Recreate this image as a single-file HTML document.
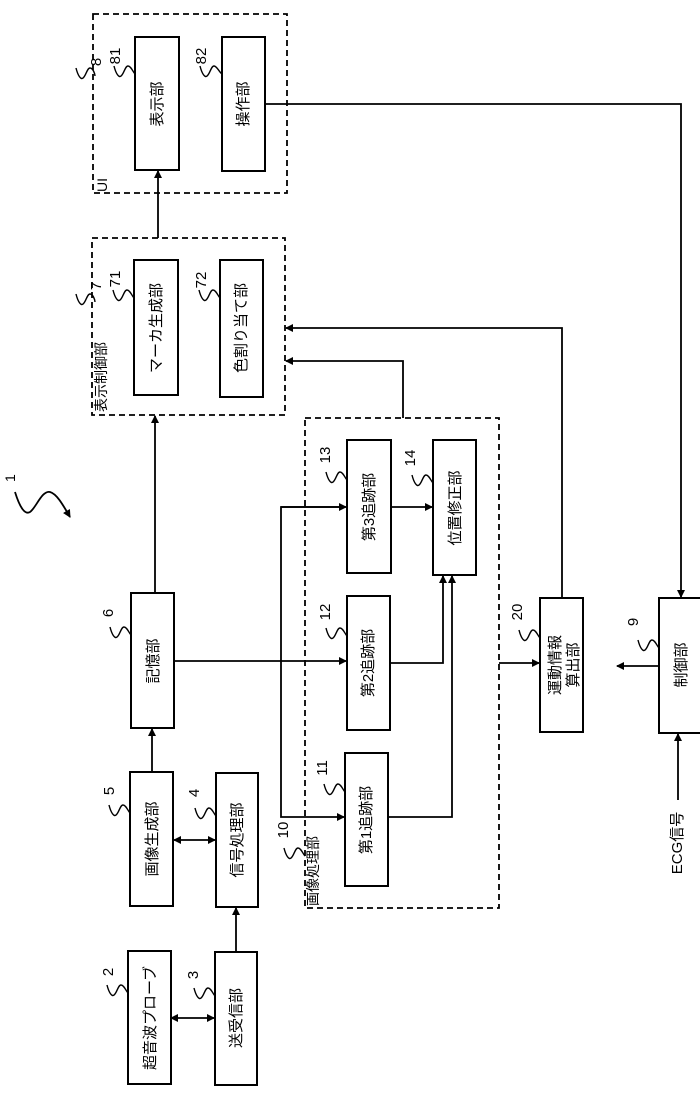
<!DOCTYPE html>
<html><head><meta charset="utf-8"><style>
html,body{margin:0;padding:0;background:#fff;}
svg{display:block;}
text{font-family:"Liberation Sans","Noto Sans CJK JP",sans-serif;fill:#000;}
.b{fill:#fff;stroke:#000;stroke-width:2;}
.d{fill:none;stroke:#000;stroke-width:1.8;stroke-dasharray:6,4;}
.l{fill:none;stroke:#000;stroke-width:1.8;}
.s{fill:none;stroke:#000;stroke-width:1.4;}
</style></head><body>
<svg width="700" height="1099" viewBox="0 0 700 1099" xmlns="http://www.w3.org/2000/svg">
<defs>
<marker id="a" markerWidth="8" markerHeight="8" refX="7" refY="4" orient="auto" markerUnits="userSpaceOnUse"><path d="M0,0 L8,4 L0,8 z" fill="#000"/></marker>
<marker id="as" markerWidth="8" markerHeight="8" refX="1" refY="4" orient="auto" markerUnits="userSpaceOnUse"><path d="M8,0 L0,4 L8,8 z" fill="#000"/></marker>
</defs>

<rect class="d" x="93" y="14" width="194" height="179"/>
<rect class="d" x="92" y="238" width="193" height="177"/>
<rect class="d" x="305" y="418" width="194" height="490"/>

<rect class="b" x="135" y="37" width="44" height="133"/>
<rect class="b" x="222" y="37" width="43" height="134"/>
<rect class="b" x="134" y="260" width="44" height="135"/>
<rect class="b" x="220" y="260" width="43" height="137"/>
<rect class="b" x="347" y="440" width="44" height="133"/>
<rect class="b" x="433" y="440" width="43" height="135"/>
<rect class="b" x="347" y="596" width="43" height="134"/>
<rect class="b" x="345" y="753" width="43" height="133"/>
<rect class="b" x="540" y="598" width="43" height="134"/>
<rect class="b" x="659" y="598" width="45" height="135"/>
<rect class="b" x="131" y="593" width="43" height="135"/>
<rect class="b" x="130" y="772" width="43" height="134"/>
<rect class="b" x="216" y="773" width="42" height="134"/>
<rect class="b" x="128" y="951" width="43" height="133"/>
<rect class="b" x="215" y="952" width="42" height="133"/>

<g font-size="15" text-anchor="middle">
<text transform="translate(162,104) rotate(-90)">表示部</text>
<text transform="translate(248,104) rotate(-90)">操作部</text>
<text transform="translate(161,328) rotate(-90)">マーカ生成部</text>
<text transform="translate(246,328) rotate(-90)">色割り当て部</text>
<text transform="translate(374,507) rotate(-90)">第3追跡部</text>
<text transform="translate(460,508) rotate(-90)">位置修正部</text>
<text transform="translate(373,663) rotate(-90)">第2追跡部</text>
<text transform="translate(371,820) rotate(-90)">第1追跡部</text>
<text transform="translate(560,665) rotate(-90)">運動情報</text>
<text transform="translate(578,665) rotate(-90)">算出部</text>
<text transform="translate(686,665) rotate(-90)">制御部</text>
<text transform="translate(158,661) rotate(-90)">記憶部</text>
<text transform="translate(157,839) rotate(-90)">画像生成部</text>
<text transform="translate(242,840) rotate(-90)">信号処理部</text>
<text transform="translate(155,1018) rotate(-90)">超音波プローブ</text>
<text transform="translate(241,1018) rotate(-90)">送受信部</text>
<text transform="translate(682,843) rotate(-90)">ECG信号</text>
</g>
<g font-size="14">
<text transform="translate(107,192) rotate(-90)">UI</text>
<text transform="translate(106,412) rotate(-90)">表示制御部</text>
<text transform="translate(318,906) rotate(-90)">画像処理部</text>
</g>

<path class="l" d="M158,238 V171" marker-end="url(#a)"/>
<path class="l" d="M265,104 H681 V597" marker-end="url(#a)"/>
<path class="l" d="M403,418 V361 H286" marker-end="url(#a)"/>
<path class="l" d="M562,598 V328 H286" marker-end="url(#a)"/>
<path class="l" d="M155,593 V416" marker-end="url(#a)"/>
<path class="l" d="M152,772 V729" marker-end="url(#a)"/>
<path class="l" d="M174,840 H215" marker-start="url(#as)" marker-end="url(#a)"/>
<path class="l" d="M171,1018 H214" marker-start="url(#as)" marker-end="url(#a)"/>
<path class="l" d="M236,952 V908" marker-end="url(#a)"/>
<path class="l" d="M174,661 H346" marker-end="url(#a)"/>
<path class="l" d="M345,507 H281 V817 H344" marker-end="url(#a)"/>
<path class="l" d="M281,507 H346" marker-end="url(#a)"/>
<path class="l" d="M391,507 H432" marker-end="url(#a)"/>
<path class="l" d="M390,663 H443 V576" marker-end="url(#a)"/>
<path class="l" d="M388,817 H452 V576" marker-end="url(#a)"/>
<path class="l" d="M499,663 H539" marker-end="url(#a)"/>
<path class="l" d="M659,666 H617" marker-end="url(#a)"/>
<path class="l" d="M678,800 V734" marker-end="url(#a)"/>

<text font-size="14" transform="translate(15,482) rotate(-90)">1</text>
<path class="l" d="M15,492 C20,508 25,515 30,512 C36,508 42,490 50,492 C57,494 63,505 70,517" marker-end="url(#a)"/>

<g font-size="15" text-anchor="middle">
<text transform="translate(101,62) rotate(-90)">8</text>
<text transform="translate(120,56) rotate(-90)">81</text>
<text transform="translate(206,56) rotate(-90)">82</text>
<text transform="translate(101,286) rotate(-90)">7</text>
<text transform="translate(120,279) rotate(-90)">71</text>
<text transform="translate(206,280) rotate(-90)">72</text>
<text transform="translate(330,455) rotate(-90)">13</text>
<text transform="translate(415,458) rotate(-90)">14</text>
<text transform="translate(330,612) rotate(-90)">12</text>
<text transform="translate(327,768) rotate(-90)">11</text>
<text transform="translate(288,830) rotate(-90)">10</text>
<text transform="translate(522,612) rotate(-90)">20</text>
<text transform="translate(638,622) rotate(-90)">9</text>
<text transform="translate(113,613) rotate(-90)">6</text>
<text transform="translate(114,791) rotate(-90)">5</text>
<text transform="translate(199,793) rotate(-90)">4</text>
<text transform="translate(113,972) rotate(-90)">2</text>
<text transform="translate(198,975) rotate(-90)">3</text>
</g>
<g class="s">
<path d="M76,68 c2,8 5,12 7,10 c3,-2 4,-10 7,-10 c3,0 5,6 5,8"/>
<path d="M114,66 c2,8 5,12 7,10 c3,-2 4,-10 7,-10 c3,0 5,6 7,8"/>
<path d="M200,66 c2,8 5,12 7,10 c3,-2 4,-10 7,-10 c3,0 5,6 8,8"/>
<path d="M76,294 c2,8 5,12 7,10 c3,-2 4,-10 7,-10 c3,0 5,6 5,8"/>
<path d="M113,290 c2,8 5,12 7,10 c3,-2 4,-10 7,-10 c3,0 5,6 7,8"/>
<path d="M199,290 c2,8 5,12 7,10 c3,-2 4,-10 7,-10 c3,0 5,6 7,8"/>
<path d="M326,472 c2,8 5,12 7,10 c3,-2 4,-10 7,-10 c3,0 5,6 7,8"/>
<path d="M412,475 c2,8 5,12 7,10 c3,-2 4,-10 7,-10 c3,0 5,6 7,8"/>
<path d="M326,628 c2,8 5,12 7,10 c3,-2 4,-10 7,-10 c3,0 5,6 7,8"/>
<path d="M324,784 c2,8 5,12 7,10 c3,-2 4,-10 7,-10 c3,0 5,6 7,8"/>
<path d="M284,848 c2,8 5,12 7,10 c3,-2 4,-10 7,-10 c3,0 5,6 7,8"/>
<path d="M519,630 c2,8 5,12 7,10 c3,-2 4,-10 7,-10 c3,0 5,6 7,8"/>
<path d="M638,640 c2,8 5,12 7,10 c3,-2 4,-10 7,-10 c3,0 5,6 7,8"/>
<path d="M110,627 c2,8 5,12 7,10 c3,-2 4,-10 7,-10 c3,0 5,6 7,8"/>
<path d="M109,805 c2,8 5,12 7,10 c3,-2 4,-10 7,-10 c3,0 5,6 7,8"/>
<path d="M195,808 c2,8 5,12 7,10 c3,-2 4,-10 7,-10 c3,0 5,6 7,8"/>
<path d="M107,985 c2,8 5,12 7,10 c3,-2 4,-10 7,-10 c3,0 5,6 7,8"/>
<path d="M194,988 c2,8 5,12 7,10 c3,-2 4,-10 7,-10 c3,0 5,6 7,8"/>
</g>
</svg>
</body></html>
